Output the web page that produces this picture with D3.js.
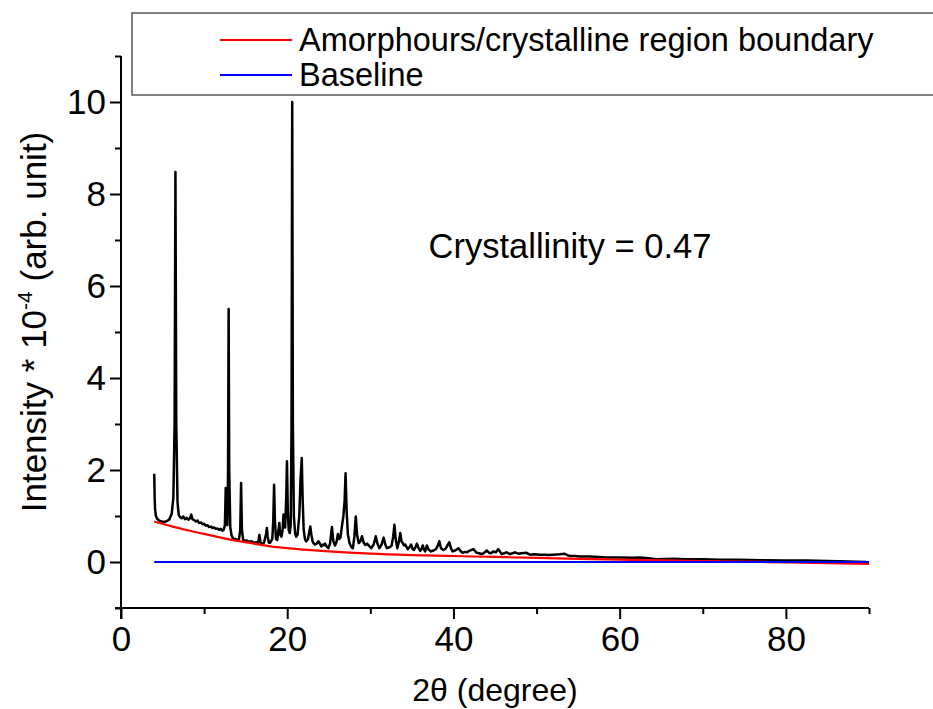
<!DOCTYPE html>
<html>
<head>
<meta charset="utf-8">
<script src="https://cdn.jsdelivr.net/npm/d3@7"></script>
<style>
  html, body { margin: 0; padding: 0; background: #fff; }
  svg { display: block; font-family: "Liberation Sans", Arial, sans-serif; }
</style>
</head>
<body>
<svg id="chart" width="933" height="709"></svg>
<script>
// Measured XRD pattern: 2θ (degree) and intensity (× 10^-4)
const twoTheta = [
  4.00, 4.05, 4.10, 4.20, 4.35, 4.60, 4.90, 5.20, 5.50, 5.80, 6.10, 6.30, 6.45, 6.55, 6.65, 6.80, 6.95,
  7.10, 7.30, 7.50, 7.70, 7.90, 8.10, 8.30, 8.45, 8.60, 8.80, 9.00, 9.20, 9.40, 9.60, 9.80, 10.00,
  10.20, 10.40, 10.60, 10.80, 11.00, 11.20, 11.40, 11.60, 11.80, 12.00, 12.20, 12.35, 12.50, 12.60,
  12.70, 12.80, 12.88, 12.95, 13.02, 13.15, 13.30, 13.45, 13.60, 13.80, 14.00, 14.20, 14.35, 14.45,
  14.55, 14.70, 14.90, 15.10, 15.40, 15.70, 16.00, 16.30, 16.50, 16.65, 16.80, 17.00, 17.20, 17.45,
  17.55, 17.65, 17.80, 17.95, 18.20, 18.32, 18.42, 18.52, 18.65, 18.80, 18.95, 19.05, 19.15, 19.30,
  19.45, 19.55, 19.65, 19.75, 19.88, 19.97, 20.07, 20.18, 20.30, 20.42, 20.52, 20.60, 20.68, 20.80,
  20.95, 21.10, 21.25, 21.45, 21.60, 21.75, 21.85, 21.98, 22.15, 22.30, 22.50, 22.65, 22.78, 22.90,
  23.05, 23.20, 23.35, 23.55, 23.75, 23.90, 24.10, 24.30, 24.40, 24.55, 24.70, 24.95, 25.15, 25.38,
  25.55, 25.75, 25.95, 26.10, 26.25, 26.40, 26.60, 26.75, 26.90, 27.02, 27.15, 27.30, 27.50, 27.70,
  27.90, 28.08, 28.25, 28.40, 28.60, 28.80, 29.00, 29.20, 29.40, 29.60, 29.85, 30.10, 30.40, 30.65,
  30.85, 31.10, 31.35, 31.60, 31.80, 32.00, 32.30, 32.55, 32.75, 32.90, 33.05, 33.25, 33.45, 33.60,
  33.75, 33.90, 34.05, 34.20, 34.50, 34.70, 34.90, 35.10, 35.25, 35.45, 35.60, 35.80, 36.00, 36.20,
  36.30, 36.45, 36.60, 36.80, 37.00, 37.30, 37.60, 37.90, 38.10, 38.30, 38.50, 38.80, 39.10, 39.50,
  39.70, 39.90, 40.20, 40.60, 40.85, 41.10, 41.40, 41.60, 41.90, 42.40, 42.80, 43.10, 43.40, 43.70,
  44.00, 44.30, 44.50, 44.80, 45.10, 45.40, 45.80, 46.10, 46.40, 46.80, 47.10, 47.40, 47.80, 48.20,
  48.80, 49.20, 49.70, 50.40, 51.00, 51.50, 52.00, 52.80, 53.40, 53.70, 54.00, 54.60, 55.20, 56.40,
  57.50, 58.40, 60.00, 61.50, 62.40, 63.50, 64.40, 66.40, 68.00, 70.00, 72.00, 74.50, 77.00, 80.00,
  82.50, 85.00, 87.50, 89.70
];
const intensity = [
  1.92, 1.40, 1.15, 1.00, 0.94, 0.90, 0.88, 0.87, 0.89, 0.92, 1.05, 1.40, 3.00, 8.48, 3.00, 1.30, 1.02,
  0.98, 0.95, 0.99, 0.93, 0.96, 0.92, 0.95, 1.03, 0.93, 0.91, 0.88, 0.90, 0.85, 0.86, 0.82, 0.83,
  0.79, 0.80, 0.76, 0.77, 0.74, 0.75, 0.72, 0.73, 0.70, 0.72, 0.68, 0.70, 0.80, 1.61,
  0.90, 0.80, 2.00, 5.50, 2.00, 0.75, 0.58, 0.52, 0.50, 0.50, 0.48, 0.50, 0.70, 1.72,
  0.70, 0.48, 0.46, 0.47, 0.44, 0.45, 0.42, 0.43, 0.42, 0.59, 0.42, 0.40, 0.42, 0.60,
  0.74, 0.55, 0.42, 0.42, 0.50, 0.90, 1.68, 0.90, 0.50, 0.48, 0.70, 0.85, 0.60, 0.55,
  0.70, 1.03, 0.80, 0.75, 1.40, 2.19, 1.10, 0.70, 0.63, 0.80, 3.00, 10.00, 3.00, 1.00,
  0.62, 0.55, 0.60, 1.00, 1.80, 2.26, 1.40, 0.70, 0.48, 0.45, 0.50, 0.65, 0.77, 0.60,
  0.45, 0.40, 0.38, 0.40, 0.45, 0.41, 0.34, 0.38, 0.36, 0.40, 0.35, 0.30, 0.40, 0.76,
  0.45, 0.36, 0.45, 0.61, 0.50, 0.53, 0.80, 0.99, 1.30, 1.93, 1.10, 0.60, 0.41, 0.33,
  0.30, 0.55, 0.99, 0.60, 0.41, 0.45, 0.56, 0.42, 0.37, 0.40, 0.35, 0.30, 0.38, 0.56,
  0.40, 0.30, 0.38, 0.53, 0.38, 0.30, 0.32, 0.35, 0.55, 0.81, 0.50, 0.30, 0.45, 0.63,
  0.45, 0.41, 0.36, 0.38, 0.28, 0.32, 0.38, 0.28, 0.26, 0.33, 0.40, 0.30, 0.24, 0.30,
  0.36, 0.27, 0.23, 0.36, 0.27, 0.23, 0.25, 0.28, 0.35, 0.45, 0.30, 0.26, 0.30, 0.43,
  0.30, 0.23, 0.25, 0.30, 0.24, 0.20, 0.22, 0.21, 0.24, 0.28, 0.20, 0.19, 0.17, 0.20,
  0.25, 0.20, 0.19, 0.23, 0.21, 0.28, 0.17, 0.19, 0.21, 0.17, 0.19, 0.21, 0.18, 0.19,
  0.20, 0.16, 0.17, 0.16, 0.16, 0.15, 0.16, 0.17, 0.18, 0.15, 0.13, 0.13, 0.12, 0.12,
  0.11, 0.10, 0.10, 0.09, 0.10, 0.08, 0.06, 0.07, 0.06, 0.06, 0.05, 0.05, 0.04, 0.03,
  0.03, 0.02, 0.01, 0.00
];

// Amorphous/crystalline boundary curve
const boundaryTheta = [4, 6, 8, 10, 12, 14, 16, 18, 20, 22, 25, 30, 35, 40, 45, 50, 55, 60, 65, 70, 75, 80, 85, 90];
const boundaryValue = [0.88, 0.78, 0.69, 0.61, 0.53, 0.46, 0.40, 0.34, 0.30, 0.27, 0.23, 0.18, 0.15, 0.13, 0.11, 0.09, 0.07, 0.05, 0.035, 0.02, 0.01, -0.01, -0.025, -0.04];

// Flat baseline
const baselineTheta = [4, 90];
const baselineValue = [0, 0];

const xTicks = [0, 20, 40, 60, 80];
const xMinorTicks = [10, 30, 50, 70, 90];
const yTicks = [0, 2, 4, 6, 8, 10];
const yMinorTicks = [-1, 1, 3, 5, 7, 9, 11];

const legendLabels = ["Amorphours/crystalline region boundary", "Baseline"];
const legendColors = ["#ff0000", "#0000ff"];
const annotation = "Crystallinity = 0.47";

const svg = d3.select("#chart");
const plot = { left: 121, right: 869, top: 56, bottom: 608 };

const x = d3.scaleLinear().domain([0, 90]).range([plot.left, plot.right]);
const y = d3.scaleLinear().domain([-1, 11]).range([plot.bottom, plot.top]);

const pattern = twoTheta.map((t, i) => [t, intensity[i]]);
const boundary = boundaryTheta.map((t, i) => [t, boundaryValue[i]]);
const baseline = baselineTheta.map((t, i) => [t, baselineValue[i]]);

const line = d3.line().x(d => x(d[0])).y(d => y(d[1]));
const smooth = d3.line().x(d => x(d[0])).y(d => y(d[1])).curve(d3.curveMonotoneX);

// Data lines
svg.append("path").datum(pattern).attr("d", line)
  .attr("fill", "none").attr("stroke", "#000").attr("stroke-width", 2.5).attr("stroke-linejoin", "round");
svg.append("path").datum(boundary).attr("d", smooth)
  .attr("fill", "none").attr("stroke", legendColors[0]).attr("stroke-width", 2.2);
svg.append("path").datum(baseline).attr("d", line)
  .attr("fill", "none").attr("stroke", legendColors[1]).attr("stroke-width", 2.2);

// Axes
const tickFont = 35;
const xAxis = svg.append("g").attr("transform", `translate(0,${plot.bottom})`)
  .call(d3.axisBottom(x).tickValues(xTicks).tickSize(11).tickPadding(7).tickFormat(d3.format("d")));
svg.append("g").attr("transform", `translate(0,${plot.bottom})`)
  .call(d3.axisBottom(x).tickValues(xMinorTicks).tickSize(6).tickFormat(""))
  .call(g => g.select(".domain").remove());

const yAxis = svg.append("g").attr("transform", `translate(${plot.left},0)`)
  .call(d3.axisLeft(y).tickValues(yTicks).tickSize(11).tickPadding(4).tickFormat(d3.format("d")));
svg.append("g").attr("transform", `translate(${plot.left},0)`)
  .call(d3.axisLeft(y).tickValues(yMinorTicks).tickSize(6).tickFormat(""))
  .call(g => g.select(".domain").remove());

// Axis lines drawn explicitly so they extend exactly across the plot frame
xAxis.select(".domain").remove();
yAxis.select(".domain").remove();
svg.append("line").attr("x1", plot.left - 6).attr("x2", plot.right).attr("y1", plot.bottom).attr("y2", plot.bottom)
  .attr("stroke", "#000").attr("stroke-width", 2);
svg.append("line").attr("x1", plot.left).attr("x2", plot.left).attr("y1", plot.top).attr("y2", plot.bottom + 11)
  .attr("stroke", "#000").attr("stroke-width", 2);

svg.selectAll(".tick line").attr("stroke", "#000").attr("stroke-width", 2);
svg.selectAll(".tick text").attr("font-size", tickFont).attr("fill", "#000")
  .attr("font-family", "Liberation Sans, Arial, sans-serif");

// Axis titles
svg.append("text").attr("x", x(45)).attr("y", 701)
  .attr("text-anchor", "middle").attr("font-size", 32)
  .text("2θ (degree)");

const yTitle = svg.append("text")
  .attr("transform", `translate(46,322) rotate(-90)`)
  .attr("text-anchor", "middle").attr("font-size", 35);
yTitle.append("tspan").text("Intensity * 10");
yTitle.append("tspan").attr("font-size", 21).attr("dy", -14).text("-4");
yTitle.append("tspan").attr("dy", 14).text(" (arb. unit)");

// Annotation
svg.append("text").attr("x", 570).attr("y", 258)
  .attr("text-anchor", "middle").attr("font-size", 34.5)
  .text(annotation);

// Legend
const legend = svg.append("g");
legend.append("rect").attr("x", 132).attr("y", 13).attr("width", 820).attr("height", 82)
  .attr("fill", "#fff").attr("stroke", "#555").attr("stroke-width", 1.5);
legendLabels.forEach((lab, i) => {
  const ly = 40 + i * 35;
  legend.append("line").attr("x1", 220).attr("x2", 292).attr("y1", ly).attr("y2", ly)
    .attr("stroke", legendColors[i]).attr("stroke-width", 2);
  legend.append("text").attr("x", 299).attr("y", ly + 11).attr("font-size", 32.5).text(lab);
});
</script>
</body>
</html>
